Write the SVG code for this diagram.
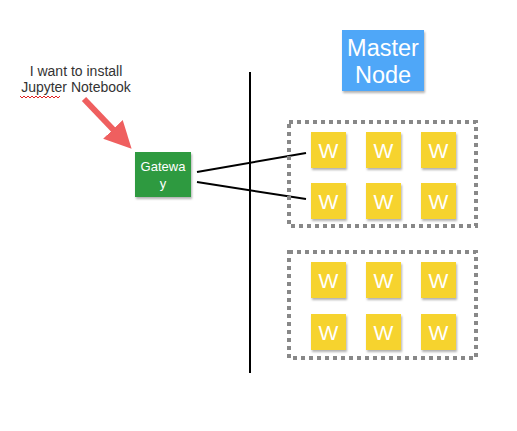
<svg xmlns="http://www.w3.org/2000/svg" width="517" height="431" viewBox="0 0 517 431">
<defs>
<filter id="sh" x="-20%" y="-20%" width="150%" height="150%">
<feDropShadow dx="1" dy="2" stdDeviation="1" flood-color="#000" flood-opacity="0.3"/>
</filter>
<marker id="ah" viewBox="0 0 10 10" refX="7" refY="5" markerWidth="4.5" markerHeight="4.5" orient="auto" markerUnits="strokeWidth">
<path d="M0,0 L10,5 L0,10 z" fill="#ef5f5f"/>
</marker>
</defs>
<style>
.w rect{fill:#f6d32d;filter:url(#sh)}
.w text{fill:#fff;font-family:"Liberation Sans",Arial,sans-serif;font-size:21px;text-anchor:middle}
.grp{fill:none;stroke:#888;stroke-width:4;stroke-dasharray:4 4}
.lbl{font-family:"Liberation Sans",Arial,sans-serif;font-size:14px;fill:#333;text-anchor:middle}
.conn{stroke:#000;stroke-width:2;fill:none}
</style>
<rect width="517" height="431" fill="#fff"/>
<g id="note">
<text class="lbl" x="76" y="76">I want to install</text>
<text class="lbl" x="76" y="92">Jupyter Notebook</text>
<path d="M20,96 l2,2 l2,-2 l2,2 l2,-2 l2,2 l2,-2 l2,2 l2,-2 l2,2 l2,-2 l2,2 l2,-2 l2,2 l2,-2 l2,2 l2,-2 l2,2 l2,-2 l2,2 l2,-2" fill="none" stroke="#e02020" stroke-width="1"/>
</g>
<g id="connectors">
<line x1="84" y1="99" x2="126" y2="143" stroke="#ef5f5f" stroke-width="6" marker-end="url(#ah)"/>
<line class="conn" x1="197" y1="172" x2="306" y2="153"/>
<line class="conn" x1="197" y1="182" x2="306" y2="199"/>
<line class="conn" x1="250" y1="72" x2="250" y2="373"/>
</g>
<g id="gateway">
<rect x="135" y="152" width="56" height="45" fill="#2f9a40" filter="url(#sh)"/>
<text x="163" y="171" font-family="'Liberation Sans',Arial,sans-serif" font-size="13" fill="#fff" text-anchor="middle">Gatewa</text>
<text x="163" y="188" font-family="'Liberation Sans',Arial,sans-serif" font-size="13" fill="#fff" text-anchor="middle">y</text>
</g>
<g id="master">
<rect x="342" y="30" width="82" height="61" fill="#4fa7f8" filter="url(#sh)"/>
<text x="383" y="56" font-family="'Liberation Sans',Arial,sans-serif" font-size="23.5" fill="#fff" text-anchor="middle">Master</text>
<text x="383" y="83" font-family="'Liberation Sans',Arial,sans-serif" font-size="23.5" fill="#fff" text-anchor="middle">Node</text>
</g>
<g id="cluster1">
<rect class="grp" x="289" y="122" width="187" height="104"/>
<g class="w" id="w11"><rect x="311" y="132" width="35" height="36"/><text x="328.5" y="158">W</text></g>
<g class="w" id="w12"><rect x="366" y="132" width="35" height="36"/><text x="383.5" y="158">W</text></g>
<g class="w" id="w13"><rect x="421" y="132" width="35" height="36"/><text x="438.5" y="158">W</text></g>
<g class="w" id="w14"><rect x="311" y="183" width="35" height="36"/><text x="328.5" y="209">W</text></g>
<g class="w" id="w15"><rect x="366" y="183" width="35" height="36"/><text x="383.5" y="209">W</text></g>
<g class="w" id="w16"><rect x="421" y="183" width="35" height="36"/><text x="438.5" y="209">W</text></g>
</g>
<g id="cluster2">
<rect class="grp" x="289" y="252" width="187" height="106"/>
<g class="w" id="w21"><rect x="311" y="262" width="35" height="36"/><text x="328.5" y="288">W</text></g>
<g class="w" id="w22"><rect x="366" y="262" width="35" height="36"/><text x="383.5" y="288">W</text></g>
<g class="w" id="w23"><rect x="421" y="262" width="35" height="36"/><text x="438.5" y="288">W</text></g>
<g class="w" id="w24"><rect x="311" y="314" width="35" height="36"/><text x="328.5" y="340">W</text></g>
<g class="w" id="w25"><rect x="366" y="314" width="35" height="36"/><text x="383.5" y="340">W</text></g>
<g class="w" id="w26"><rect x="421" y="314" width="35" height="36"/><text x="438.5" y="340">W</text></g>
</g>
</svg>
